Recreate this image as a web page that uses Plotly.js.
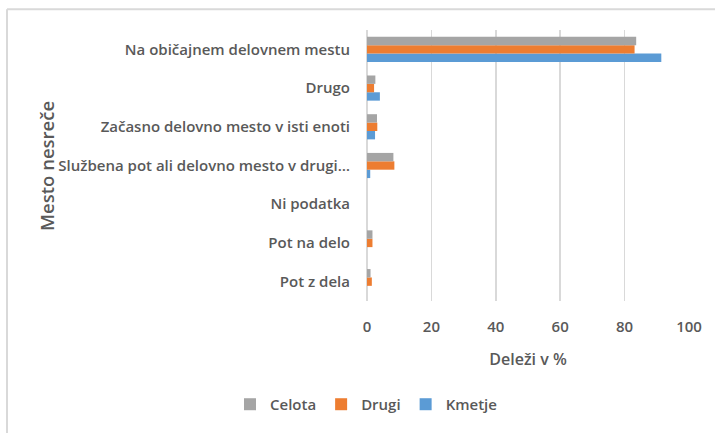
<!DOCTYPE html>
<html>
<head>
<meta charset="utf-8">
<script src="https://cdn.plot.ly/plotly-3.0.1.min.js"></script>
<style>html,body{margin:0;padding:0;background:#fff;}#chart{width:715px;height:433px;}</style>
</head>
<body>
<div id="chart"></div>
<script>
// Categories listed bottom to top (Plotly draws the first category at the bottom)
const categories = [
  "Pot z dela",
  "Pot na delo",
  "Ni podatka",
  "Službena pot ali delovno mesto v drugi…",
  "Začasno delovno mesto v isti enoti",
  "Drugo",
  "Na običajnem delovnem mestu"
];
const kmetje = [0, 0, 0, 1.0, 2.5, 4.0, 91.4];
const drugi  = [1.5, 1.7, 0, 8.5, 3.2, 2.2, 83.1];
const celota = [1.1, 1.7, 0, 8.2, 3.1, 2.6, 83.6];
const xTicks = [0, 20, 40, 60, 80, 100];

const W = 715, H = 433;
const M = {l: 367, r: 26, t: 30, b: 128};
const pw = W - M.l - M.r, ph = H - M.t - M.b;
const px = x => (x - M.l) / pw;
const py = y => (H - M.b - y) / ph;

const font = {family: "Open Sans, Lato, sans-serif", color: "#595959", weight: 600};
const f = s => Object.assign({size: s}, font);

const traces = [
  {name: "Kmetje", y: categories, x: kmetje, type: "bar", orientation: "h", marker: {color: "#5B9BD5"}},
  {name: "Drugi",  y: categories, x: drugi,  type: "bar", orientation: "h", marker: {color: "#ED7D31"}},
  {name: "Celota", y: categories, x: celota, type: "bar", orientation: "h", marker: {color: "#A5A5A5"}}
];

const layout = {
  width: W, height: H,
  margin: M,
  paper_bgcolor: "#fff", plot_bgcolor: "#fff",
  font: f(15),
  barmode: "group",
  bargap: 0.35,
  bargroupgap: 0,
  showlegend: true,
  legend: {
    orientation: "h", traceorder: "reversed",
    x: px(366), xanchor: "center", y: py(410), yanchor: "middle",
    font: f(15),
    itemwidth: 30
  },
  xaxis: {
    range: [0, 100], tickvals: xTicks, ticktext: xTicks.map(String),
    showgrid: true, gridcolor: "#D9D9D9", gridwidth: 1.5,
    zeroline: true, zerolinecolor: "#D9D9D9", zerolinewidth: 1.5,
    showline: false, ticks: "",
    ticklabelstandoff: 15,
    tickfont: f(15),
    title: {text: "Deleži v %", font: f(16), standoff: 18}
  },
  yaxis: {
    type: "category", categoryorder: "array", categoryarray: categories,
    showgrid: false, zeroline: false, showline: false, ticks: "",
    ticklabelstandoff: 16,
    tickfont: f(15),
    automargin: false
  },
  annotations: [{
    text: "Mesto nesreče", xref: "paper", yref: "paper",
    x: px(47), y: py(168), xanchor: "center", yanchor: "middle",
    textangle: -90, showarrow: false,
    font: f(18.5)
  }],
  shapes: [
    {type: "line", xref: "paper", yref: "paper", x0: px(7), x1: px(720), y0: py(9), y1: py(9), line: {color: "#D9D9D9", width: 2}},
    {type: "line", xref: "paper", yref: "paper", x0: px(7), x1: px(7), y0: py(9), y1: py(440), line: {color: "#D9D9D9", width: 2}}
  ]
};

Plotly.newPlot("chart", traces, layout, {displayModeBar: false, staticPlot: true});
</script>
</body>
</html>
